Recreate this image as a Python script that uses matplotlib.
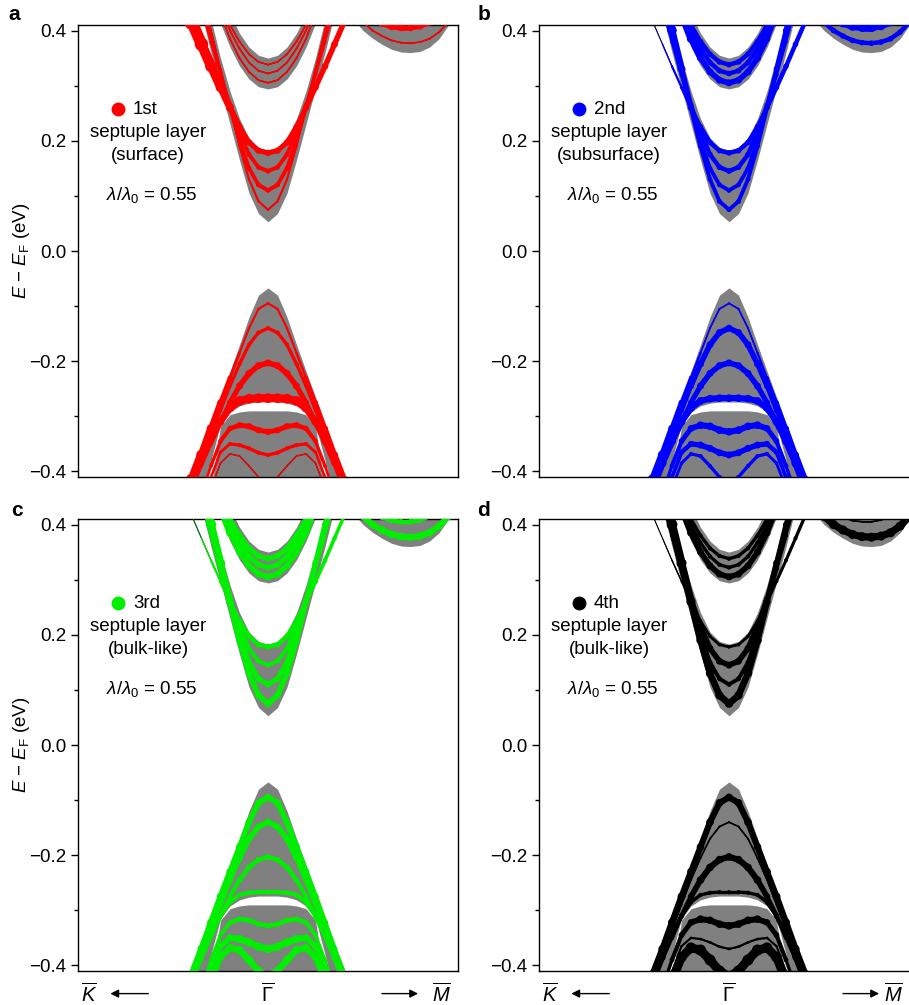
import numpy as np
import matplotlib
matplotlib.use('Agg')
import matplotlib.pyplot as plt
from matplotlib.collections import LineCollection

plt.rcParams['font.family'] = ['Liberation Sans', 'DejaVu Sans']
plt.rcParams['mathtext.fontset'] = 'custom'
plt.rcParams['mathtext.rm'] = 'Liberation Sans'
plt.rcParams['mathtext.it'] = 'Liberation Sans:italic'
plt.rcParams['mathtext.bf'] = 'Liberation Sans:bold'

# momentum along K - Gamma - M (Gamma at 0), shared by the bands around Gamma
k_g = [-0.45, -0.40, -0.35, -0.30, -0.25, -0.20, -0.15, -0.10, -0.05, 0.0,
       0.05, 0.10, 0.15, 0.20, 0.25, 0.30, 0.35, 0.40, 0.45]

# conduction subbands (eV)
cb1 = [0.61, 0.54, 0.47, 0.40, 0.33, 0.26, 0.19, 0.13, 0.09, 0.075,
       0.09, 0.13, 0.19, 0.26, 0.33, 0.40, 0.47, 0.54, 0.61]
cb2 = [0.585, 0.52, 0.455, 0.39, 0.325, 0.26, 0.20, 0.15, 0.12, 0.11,
       0.12, 0.15, 0.20, 0.26, 0.325, 0.39, 0.455, 0.52, 0.585]
cb3 = [0.56, 0.50, 0.44, 0.38, 0.32, 0.265, 0.215, 0.175, 0.152, 0.145,
       0.152, 0.175, 0.215, 0.265, 0.32, 0.38, 0.44, 0.50, 0.56]
cb4 = [0.455, 0.415, 0.375, 0.335, 0.297, 0.26, 0.225, 0.197, 0.182, 0.178,
       0.182, 0.197, 0.225, 0.26, 0.297, 0.335, 0.375, 0.415, 0.455]
cb5 = [0.70, 0.64, 0.58, 0.50, 0.43, 0.385, 0.35, 0.325, 0.31, 0.305,
       0.31, 0.325, 0.35, 0.385, 0.43, 0.50, 0.58, 0.64, 0.70]
cb6 = [0.71, 0.65, 0.59, 0.51, 0.44, 0.40, 0.367, 0.342, 0.327, 0.322,
       0.327, 0.342, 0.367, 0.40, 0.44, 0.51, 0.59, 0.65, 0.71]
cb7 = [0.72, 0.66, 0.60, 0.52, 0.45, 0.41, 0.38, 0.357, 0.343, 0.338,
       0.343, 0.357, 0.38, 0.41, 0.45, 0.52, 0.60, 0.66, 0.72]

# valence subbands (eV)
vb1 = [-0.46, -0.415, -0.37, -0.322, -0.275, -0.23, -0.185, -0.14, -0.105, -0.095,
       -0.105, -0.14, -0.185, -0.23, -0.275, -0.322, -0.37, -0.415, -0.46]
vb2 = [-0.47, -0.425, -0.38, -0.335, -0.29, -0.245, -0.205, -0.17, -0.148, -0.14,
       -0.148, -0.17, -0.205, -0.245, -0.29, -0.335, -0.38, -0.425, -0.47]
vb3 = [-0.48, -0.435, -0.39, -0.35, -0.31, -0.275, -0.245, -0.222, -0.208, -0.203,
       -0.208, -0.222, -0.245, -0.275, -0.31, -0.35, -0.39, -0.435, -0.48]
vb4 = [-0.475, -0.43, -0.385, -0.345, -0.31, -0.285, -0.272, -0.268, -0.267, -0.267,
       -0.267, -0.268, -0.272, -0.285, -0.31, -0.345, -0.385, -0.43, -0.475]
vb5 = [-0.53, -0.49, -0.44, -0.39, -0.345, -0.322, -0.316, -0.318, -0.325, -0.328,
       -0.325, -0.318, -0.316, -0.322, -0.345, -0.39, -0.44, -0.49, -0.53]
vb6 = [-0.56, -0.51, -0.46, -0.41, -0.365, -0.35, -0.352, -0.358, -0.366, -0.37,
       -0.366, -0.358, -0.352, -0.35, -0.365, -0.41, -0.46, -0.51, -0.56]
vb7 = [-0.60, -0.55, -0.49, -0.43, -0.385, -0.368, -0.372, -0.39, -0.41, -0.42,
       -0.41, -0.39, -0.372, -0.368, -0.385, -0.43, -0.49, -0.55, -0.60]

# projected bulk continua (eV)
gray_v_low = [0.58, 0.50, 0.43, 0.36, 0.295, 0.23, 0.165, 0.105, 0.068, 0.053,
              0.068, 0.105, 0.165, 0.23, 0.295, 0.36, 0.43, 0.50, 0.58]
gray_v_high = [0.66, 0.58, 0.50, 0.42, 0.35, 0.29, 0.24, 0.205, 0.188, 0.183,
               0.188, 0.205, 0.24, 0.29, 0.35, 0.42, 0.50, 0.58, 0.66]
gray_p_low = [0.64, 0.58, 0.52, 0.46, 0.413, 0.37, 0.336, 0.312, 0.298, 0.294,
              0.298, 0.312, 0.336, 0.37, 0.413, 0.46, 0.52, 0.58, 0.64]
gray_p_high = [0.75, 0.70, 0.65, 0.58, 0.52, 0.43, 0.395, 0.37, 0.355, 0.35,
               0.355, 0.37, 0.395, 0.43, 0.52, 0.58, 0.65, 0.70, 0.75]
gray_l_top = [-0.45, -0.405, -0.36, -0.312, -0.265, -0.218, -0.17, -0.12, -0.08, -0.067,
              -0.08, -0.12, -0.17, -0.218, -0.265, -0.312, -0.36, -0.405, -0.45]
gray_l_bot = [-0.55, -0.50, -0.45, -0.38, -0.315, -0.292, -0.281, -0.276, -0.274, -0.274,
              -0.274, -0.276, -0.281, -0.292, -0.315, -0.38, -0.45, -0.50, -0.55]
gray_w_top = [-0.50, -0.50, -0.50, -0.43, -0.318, -0.297, -0.292, -0.29, -0.29, -0.29,
              -0.29, -0.29, -0.292, -0.297, -0.318, -0.43, -0.50, -0.50, -0.50]

# pocket towards M
k_m = [0.45, 0.50, 0.55, 0.60, 0.65, 0.70, 0.75, 0.80, 0.85, 0.90, 0.95, 1.00]
gray_m_low = [0.42, 0.40, 0.386, 0.375, 0.366, 0.361, 0.36, 0.362, 0.37, 0.385, 0.41, 0.44]
mb1 = [0.43, 0.415, 0.40, 0.39, 0.382, 0.378, 0.377, 0.379, 0.385, 0.397, 0.415, 0.44]
mb2 = [0.46, 0.44, 0.425, 0.413, 0.407, 0.405, 0.405, 0.408, 0.415, 0.43, 0.45, 0.47]

band_k = {'cb1': k_g, 'cb2': k_g, 'cb3': k_g, 'cb4': k_g, 'cb5': k_g, 'cb6': k_g,
          'cb7': k_g, 'vb1': k_g, 'vb2': k_g, 'vb3': k_g, 'vb4': k_g, 'vb5': k_g,
          'vb6': k_g, 'vb7': k_g, 'mb1': k_m, 'mb2': k_m}
band_e = {'cb1': cb1, 'cb2': cb2, 'cb3': cb3, 'cb4': cb4, 'cb5': cb5, 'cb6': cb6,
          'cb7': cb7, 'vb1': vb1, 'vb2': vb2, 'vb3': vb3, 'vb4': vb4, 'vb5': vb5,
          'vb6': vb6, 'vb7': vb7, 'mb1': mb1, 'mb2': mb2}

# layer weight (marker size, pt) per band: (K-side arm, centre, M-side arm)
w_1st = {'cb1': (1.5, 1.8, 1.5), 'cb2': (1.5, 3.5, 1.5), 'cb3': (1.5, 3.5, 1.5),
         'cb4': (11, 4.5, 5), 'cb5': (1.5, 1.5, 1.5), 'cb6': (1.5, 1.5, 1.5),
         'cb7': (1.5, 1.5, 1.5), 'mb1': (1.5, 1.5, 1.5), 'mb2': (5, 5, 5),
         'vb1': (9, 1.8, 6), 'vb2': (1.5, 3, 1.5), 'vb3': (1.5, 5, 1.5),
         'vb4': (3, 7, 4), 'vb5': (1.5, 4.5, 1.5), 'vb6': (1.5, 3, 1.5),
         'vb7': (1.2, 1.2, 1.2)}
w_2nd = {'cb1': (9, 3.5, 5), 'cb2': (1.5, 3.5, 1.5), 'cb3': (1.5, 4, 1.5),
         'cb4': (0, 4, 4), 'cb5': (10, 5, 4), 'cb6': (1.5, 4, 1.5),
         'cb7': (1.5, 4, 1.5), 'mb1': (4, 4, 4), 'mb2': (6, 6, 6),
         'vb1': (8, 1.5, 6), 'vb2': (1.5, 5, 1.5), 'vb3': (1.5, 5, 1.5),
         'vb4': (6, 5.5, 6), 'vb5': (2, 5.5, 2), 'vb6': (2, 5, 2), 'vb7': (2, 3, 2)}
w_3rd = {'cb1': (9, 5, 4), 'cb2': (1.5, 4.5, 1.5), 'cb3': (1.5, 3.5, 1.5),
         'cb4': (0, 4, 3), 'cb5': (8, 5, 5), 'cb6': (2, 4.5, 2),
         'cb7': (2, 4.5, 2), 'mb1': (5.5, 5.5, 5.5), 'mb2': (4, 4, 4),
         'vb1': (6, 5, 4), 'vb2': (2, 5, 2), 'vb3': (1.5, 4, 1.5),
         'vb4': (4, 3.5, 5), 'vb5': (2, 4, 2), 'vb6': (3, 6, 3), 'vb7': (4, 6, 4)}
w_4th = {'cb1': (9, 6, 3), 'cb2': (1.5, 3.5, 1.5), 'cb3': (1.5, 5, 1.5),
         'cb4': (0, 2.5, 3), 'cb5': (8, 5, 5), 'cb6': (1.5, 3, 1.5),
         'cb7': (1.5, 3, 1.5), 'mb1': (6.5, 6.5, 6.5), 'mb2': (1.5, 1.5, 1.5),
         'vb1': (6, 5.5, 6), 'vb2': (1.2, 1.5, 1.2), 'vb3': (1.5, 5.5, 1.5),
         'vb4': (5, 3, 5), 'vb5': (2, 5.5, 2), 'vb6': (1.5, 2, 1.5), 'vb7': (7, 8, 7)}

panel_letters = ['a', 'b', 'c', 'd']
layer_names = ['1st', '2nd', '3rd', '4th']
layer_kinds = ['(surface)', '(subsurface)', '(bulk-like)', '(bulk-like)']
layer_weights = [w_1st, w_2nd, w_3rd, w_4th]
panel_colors = ['#ff0000', '#0000ff', '#00ee00', '#000000']
lambda_ratio = 0.55

GRAY = '#808080'
FS = 13.5


def dibujar_banda(ax, k, e, w3, color):
    k = np.asarray(k, dtype=float)
    e = np.asarray(e, dtype=float)
    ax.plot(k, e, color='black', lw=0.8, zorder=2)
    w = np.interp(k, [-0.4, -0.15, 0.15, 0.4], [w3[0], w3[1], w3[1], w3[2]])
    pts = np.column_stack([k, e])
    segs = np.stack([pts[:-1], pts[1:]], axis=1)
    lc = LineCollection(segs, linewidths=(w[:-1] + w[1:]) / 2 * 0.8,
                        colors=color, capstyle='round', zorder=3)
    ax.add_collection(lc)
    ax.scatter(k, e, s=w ** 2, color=color, lw=0, zorder=4)


def fmt_y(v, p):
    if v < 0:
        return '\u2212%.1f' % abs(v)
    return '%.1f' % abs(v)


fig = plt.figure(figsize=(9.09, 10.05), dpi=100)
W, H = 909, 1005
posiciones = [(78, 477), (539, 477), (78, 971), (539, 971)]
letras_xy = [(14, 15), (484, 15), (17, 510), (484, 510)]
m_label_x = {2: 0.91, 3: 0.865}

for i in range(4):
    x0, yb = posiciones[i]
    ax = fig.add_axes([x0 / W, 1 - yb / H, 380 / W, 452 / H])
    ax.set_xlim(-1, 1)
    ax.set_ylim(-0.41, 0.41)

    # continua
    ax.fill_between(k_g, gray_v_low, gray_v_high, color=GRAY, lw=0, zorder=1)
    ax.fill_between(k_g, gray_p_low, gray_p_high, color=GRAY, lw=0, zorder=1)
    ax.fill_between(k_m, gray_m_low, 0.5, color=GRAY, lw=0, zorder=1)
    ax.fill_between(k_g, gray_l_bot, gray_l_top, color=GRAY, lw=0, zorder=1)
    ax.fill_between(k_g, -0.5, gray_w_top, color=GRAY, lw=0, zorder=1)

    # bandas pesadas por capa
    for nombre, w3 in layer_weights[i].items():
        dibujar_banda(ax, band_k[nombre], band_e[nombre], w3, panel_colors[i])

    # leyenda dentro del panel
    ax.plot(-0.79, 0.257, 'o', ms=10, color=panel_colors[i], mew=0, zorder=5)
    ax.text(-0.71, 0.257, layer_names[i], fontsize=FS, ha='left', va='center')
    ax.text(-0.63, 0.215, 'septuple layer', fontsize=FS, ha='center', va='center')
    ax.text(-0.63, 0.174, layer_kinds[i], fontsize=FS, ha='center', va='center')
    ax.text(-0.61, 0.102, r'$\lambda/\lambda_0$ = %.2f' % lambda_ratio,
            fontsize=FS, ha='center', va='center')

    ax.set_yticks([-0.4, -0.2, 0.0, 0.2, 0.4])
    ax.set_yticks([-0.3, -0.1, 0.1, 0.3], minor=True)
    ax.yaxis.set_major_formatter(plt.FuncFormatter(fmt_y))
    ax.set_xticks([])
    ax.tick_params(axis='y', which='major', direction='out', length=5, width=1,
                   labelsize=FS)
    ax.tick_params(axis='y', which='minor', direction='out', length=3, width=1)
    for s in ax.spines.values():
        s.set_linewidth(1)

    if i in (0, 2):
        ax.set_ylabel('$E$ \u2212 $E_{\\mathrm{F}}$ (eV)', fontsize=FS)
        ax.yaxis.set_label_coords(-0.12, 0.5)

    if i in (2, 3):
        ytxt = -0.05
        tr = ax.get_xaxis_transform()
        ax.text(-0.94, ytxt, r'$\overline{K}$', transform=tr, fontsize=14.5,
                ha='center', va='center')
        ax.text(0.0, ytxt, r'$\overline{\mathrm{\Gamma}}$', transform=tr, fontsize=14.5,
                ha='center', va='center')
        ax.text(m_label_x[i], ytxt, r'$\overline{M}$', transform=tr, fontsize=14.5,
                ha='center', va='center')
        ax.annotate('', xy=(-0.83, ytxt), xytext=(-0.63, ytxt), xycoords=tr,
                    textcoords=tr, annotation_clip=False,
                    arrowprops=dict(arrowstyle='-|>', color='black', lw=1,
                                    mutation_scale=12, shrinkA=0, shrinkB=0))
        ax.annotate('', xy=(0.79, ytxt), xytext=(0.60, ytxt), xycoords=tr,
                    textcoords=tr, annotation_clip=False,
                    arrowprops=dict(arrowstyle='-|>', color='black', lw=1,
                                    mutation_scale=12, shrinkA=0, shrinkB=0))

    lx, ly = letras_xy[i]
    fig.text(lx / W, 1 - ly / H, panel_letters[i], fontsize=15, fontweight='bold',
             ha='center', va='center')

fig.savefig('out.png', dpi=100)
